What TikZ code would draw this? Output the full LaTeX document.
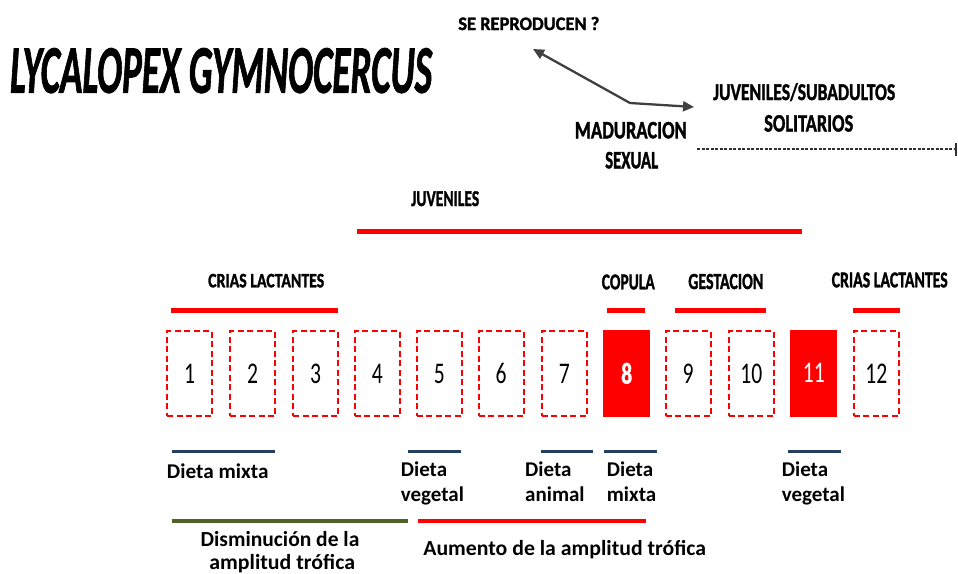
\documentclass[tikz,border=0pt]{standalone}
\usepackage{fontspec}
\setmainfont{Carlito}
\newfontfamily\heavyfont{Carlito}[BoldFeatures={FakeBold=1.6},BoldItalicFeatures={FakeBold=1.6}]
\usepackage{graphicx}
\usetikzlibrary{arrows.meta}
\definecolor{myred}{HTML}{FF0000}
\definecolor{navy}{HTML}{243F60}
\definecolor{olivegreen}{HTML}{4F6228}
\definecolor{arrgray}{HTML}{404040}
\definecolor{dotgray}{HTML}{303030}
\newcommand\fw[3]{\resizebox{#1pt}{\height}{\fontsize{#2}{#2}\selectfont #3}}
\newcommand\dig[1]{\fontsize{30}{30}\selectfont\scalebox{0.72}[1]{#1}}
\begin{document}
\begin{tikzpicture}[x=1pt,y=-1pt,
  lbl/.style={inner sep=0pt, anchor=base, font=\heavyfont\bfseries},
  lbln/.style={inner sep=0pt, anchor=base, font=\bfseries},
  diet/.style={inner sep=0pt, anchor=base west, font=\bfseries\fontsize{21}{21}\selectfont},
  mbox/.style={draw=myred, dash pattern=on 6pt off 3.5pt, line width=1.8pt,
     minimum width=45pt, minimum height=85pt, inner sep=0pt},
  fbox/.style={fill=myred, draw=none, minimum width=47pt, minimum height=87pt, inner sep=0pt, text=white},
  redbar/.style={draw=myred, line width=5pt},
  bluebar/.style={draw=navy, line width=3.3pt},
  trophic/.style={line width=4pt}]
\fill[white] (0,0) rectangle (958,573);
\useasboundingbox (0,0) rectangle (958,573);

% title
\node[lbl, font=\heavyfont\bfseries\itshape] (title) at (221,92.7) {\fw{422}{68}{LYCALOPEX GYMNOCERCUS}};

% top labels
\node[lbl] (srep) at (528.8,30) {\fw{141}{19}{SE REPRODUCEN ?}};
\node[lbl] (juvsub) at (804.2,100) {\fw{182}{24}{JUVENILES/SUBADULTOS}};
\node[lbl] (solit) at (808.7,131.5) {\fw{89}{25}{SOLITARIOS}};
\node[lbl] (madur) at (630.8,138.3) {\fw{112}{25}{MADURACION}};
\node[lbl] (sexual) at (631.7,168.3) {\fw{53}{25}{SEXUAL}};

% arrows
\coordinate (atipA) at (533,49);
\coordinate (abend) at (630,103);
\coordinate (atipB) at (694,107);
\draw[arrgray, line width=2.3pt, {Triangle[length=11pt,width=10pt]}-{Triangle[length=11pt,width=10pt]}]
  (atipA) -- (abend) -- (atipB);

\coordinate (dotA) at (697,149);
\coordinate (dotB) at (957,149);
\draw[dotgray, line width=1.6pt, dash pattern=on 3pt off 1.5pt, -{Bar[width=13pt,line width=2pt]}] (dotA) -- (dotB);

% stage labels
\node[lbl] (juv) at (445.2,206) {\fw{68}{22.6}{JUVENILES}};
\draw[redbar] (357,231) -- (802,231);
\node[lbl] (crias1) at (266.2,287.3) {\fw{116}{20.5}{CRIAS LACTANTES}};
\draw[redbar] (170.7,310.7) -- (338.3,310.7);
\node[lbl] (copula) at (628.3,289.3) {\fw{53}{22.6}{COPULA}};
\draw[redbar, line width=4.5pt] (607.3,310.3) -- (644.7,310.3);
\node[lbl] (gest) at (725.8,289) {\fw{75}{23}{GESTACION}};
\draw[redbar, line width=4.5pt] (675.3,310.3) -- (765.7,310.3);
\node[lbl] (crias2) at (889.7,287.3) {\fw{116}{22.6}{CRIAS LACTANTES}};
\draw[redbar, line width=4.5pt] (853.3,310.3) -- (900,310.3);

% month boxes
\foreach \i/\x in {1/189.5,2/252.5,3/315.7,4/377.3,5/439.3,6/501.2,7/564.3,9/688.2,10/751.3,12/876.3}
  \node[mbox] (m\i) at (\x,373.8) {\dig{\i}};
\node[fbox] (m8) at (626.7,373.3) {\heavyfont\bfseries\dig{8}};
\node[fbox] (m11) at (813.8,373.3) {\dig{11}};

% diet bars
\draw[bluebar] (171.7,451.7) -- (275,451.7);
\draw[bluebar] (408.3,451.7) -- (460.7,451.7);
\draw[bluebar] (540.7,451.7) -- (593.3,451.7);
\draw[bluebar] (604,451.7) -- (656.7,451.7);
\draw[bluebar] (788.3,451.7) -- (840.7,451.7);

% diet labels
\node[diet] (d1) at (166.7,478.3) {\resizebox{101.6pt}{\height}{Dieta mixta}};
\node[diet] (d2a) at (400.7,476.7) {Dieta};
\node[diet] (d2b) at (400.7,501.2) {vegetal};
\node[diet] (d3a) at (525,476.7) {Dieta};
\node[diet] (d3b) at (525,501.2) {animal};
\node[diet] (d4a) at (606.7,476.7) {Dieta};
\node[diet] (d4b) at (606.7,501.2) {mixta};
\node[diet] (d5a) at (781.7,476.7) {Dieta};
\node[diet] (d5b) at (781.7,501.2) {vegetal};

% trophic bars
\draw[trophic, olivegreen] (171.7,520.7) -- (408.3,520.7);
\draw[trophic, myred] (418.3,520.7) -- (645.7,520.7);
\node[lbln] (dism1) at (280,546.7) {\fw{158.7}{21.5}{Disminución de la}};
\node[lbln] (dism2) at (282.2,569) {\fw{145.7}{21.5}{amplitud trófica}};
\node[lbln] (aum) at (564.7,555) {\fw{282.7}{21.5}{Aumento de la amplitud trófica}};
\end{tikzpicture}
\end{document}
